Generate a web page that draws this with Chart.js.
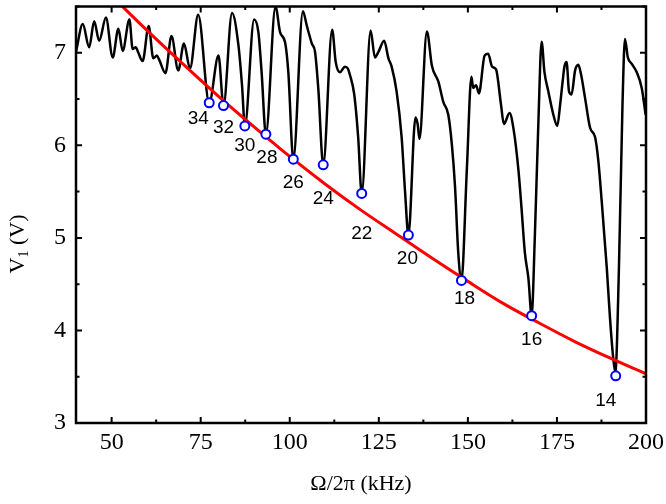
<!DOCTYPE html>
<html>
<head>
<meta charset="utf-8">
<script src="https://cdn.jsdelivr.net/npm/chart.js@4"></script>
<style>
  html, body { margin: 0; padding: 0; background: #fff; }
</style>
</head>
<body>
<canvas id="resChart" width="666" height="504"></canvas>
<script>
// measured V1 vs drive frequency (black trace)
const freqKHz = [40.0, 41.9, 43.7, 45.1, 46.5, 48.4, 50.3, 51.9, 53.1, 55.0, 55.9, 56.8, 57.3, 58.7, 60.4, 61.7, 62.7, 63.4, 65.1, 66.8,
  68.7, 70.3, 72.0, 74.3, 77.4, 80.0, 81.4, 83.8, 85.6, 86.6, 87.4, 90.0, 91.2, 92.1, 93.3, 96.0, 97.3, 98.7, 99.6, 101.0,
  103.7, 104.8, 106.2, 107.1, 108.0, 109.4, 111.9, 112.9, 114.1, 115.5, 116.3, 116.9, 118.1, 119.2, 120.2, 122.7, 123.9, 124.9, 126.5, 127.7,
  128.6, 130.0, 131.4, 132.4, 133.3, 135.3, 135.9, 136.4, 138.5, 139.9, 141.7, 143.1, 144.5, 145.5, 146.4, 147.3, 148.2, 149.7, 151.0, 151.5,
  152.3, 153.1, 154.7, 155.7, 156.8, 157.9, 159.3, 160.1, 161.7, 162.8, 164.2, 165.1, 166.0, 167.0, 167.9, 168.8, 169.8, 170.7, 171.5, 172.6,
  174.0, 175.1, 175.9, 176.6, 177.1, 177.7, 178.4, 179.1, 180.1, 181.0, 181.8, 182.9, 184.3, 185.7, 186.6, 187.6, 189.0, 189.9, 190.8, 191.4,
  192.4, 193.4, 194.1, 194.9, 196.0, 197.4, 198.8, 199.9];
const v1Volts = [7.01, 7.31, 7.06, 7.34, 7.13, 7.38, 6.95, 7.26, 7.02, 7.36, 7.04, 7.06, 7.02, 6.91, 7.29, 6.94, 6.97, 6.92, 6.78, 7.18,
  6.81, 7.10, 6.83, 7.41, 6.46, 6.97, 6.43, 7.43, 7.08, 6.65, 6.21, 7.36, 7.22, 6.79, 6.12, 7.50, 7.22, 7.11, 6.79, 5.85,
  7.45, 7.29, 7.10, 7.01, 6.62, 5.79, 7.25, 6.90, 6.79, 6.85, 6.83, 6.76, 6.55, 6.09, 5.48, 7.24, 6.95, 7.01, 7.13, 6.94,
  6.85, 6.58, 6.09, 5.48, 5.03, 6.30, 6.23, 6.07, 7.23, 6.86, 6.69, 6.47, 6.33, 6.01, 5.55, 4.84, 4.54, 5.73, 6.74, 6.62,
  6.65, 6.56, 6.97, 6.99, 6.85, 6.82, 6.44, 6.23, 6.35, 6.18, 5.73, 5.30, 4.84, 4.56, 4.16, 5.02, 6.26, 7.12, 6.79, 6.58,
  6.33, 6.21, 6.44, 6.69, 6.85, 6.90, 6.58, 6.55, 6.81, 6.87, 6.76, 6.51, 6.19, 6.09, 5.84, 5.38, 4.67, 4.13, 3.70, 3.55,
  4.67, 6.44, 7.15, 6.95, 6.88, 6.79, 6.62, 6.33];

// envelope through the minima (red)
const fitFreq = [52.5, 60, 70, 80, 90, 100, 110, 120, 130, 140, 150, 160, 170, 180, 190, 200];
const fitVolts = [7.52, 7.24, 6.88, 6.53, 6.20, 5.88, 5.58, 5.30, 5.04, 4.78, 4.53, 4.29, 4.08, 3.88, 3.70, 3.53];

// resonance minima (blue circles) and their mode numbers
const dipFreq = [77.4, 81.4, 87.4, 93.3, 101.0, 109.4, 120.2, 133.3, 148.2, 167.9, 191.5];
const dipVolts = [6.46, 6.43, 6.21, 6.12, 5.85, 5.79, 5.48, 5.03, 4.54, 4.16, 3.51];
const dipLabels = ['34', '32', '30', '28', '26', '24', '22', '20', '18', '16', '14'];

const xTicks = [50, 75, 100, 125, 150, 175, 200];
const yTicks = [3, 4, 5, 6, 7];

// where each mode number sits relative to its circle (px)
const labelOffsets = [[-11, 16], [0, 22], [0, 20], [1, 24], [0, 24], [0, 34], [0, 40], [-1, 24], [3, 18], [0, 24], [-10, 25]];

const serif = '"Liberation Serif", "Times New Roman", serif';

const framePlugin = {
  id: 'frame',
  afterDraw(chart) {
    const ctx = chart.ctx;
    const a = chart.chartArea;
    const xs = chart.scales.x, ys = chart.scales.y;
    ctx.save();
    ctx.strokeStyle = '#000';
    ctx.lineWidth = 2;

    // inward ticks on all four sides, minor ticks halfway
    ctx.beginPath();
    for (let v = 37.5; v <= 200; v += 12.5) {
      if (v < 40) continue;
      const len = (v % 25 === 0) ? 6 : 3.5;
      const px = xs.getPixelForValue(v);
      ctx.moveTo(px, a.bottom); ctx.lineTo(px, a.bottom - len);
      ctx.moveTo(px, a.top); ctx.lineTo(px, a.top + len);
    }
    for (let v = 3; v <= 7.5; v += 0.5) {
      const len = (v % 1 === 0) ? 6 : 3.5;
      const py = ys.getPixelForValue(v);
      ctx.moveTo(a.left, py); ctx.lineTo(a.left + len, py);
      ctx.moveTo(a.right, py); ctx.lineTo(a.right - len, py);
    }
    ctx.stroke();

    ctx.lineWidth = 2.5;
    ctx.strokeRect(a.left, a.top, a.right - a.left, a.bottom - a.top);

    // mode numbers
    ctx.fillStyle = '#000';
    ctx.font = '19px "Liberation Sans", Arial, sans-serif';
    ctx.textAlign = 'center';
    ctx.textBaseline = 'middle';
    dipLabels.forEach((t, i) => {
      const px = xs.getPixelForValue(dipFreq[i]) + labelOffsets[i][0];
      const py = ys.getPixelForValue(dipVolts[i]) + labelOffsets[i][1];
      ctx.fillText(t, px, py);
    });

    // axis titles
    ctx.font = '22px ' + serif;
    ctx.fillText('\u03A9/2\u03C0 (kHz)', (a.left + a.right) / 2, 484);

    ctx.translate(18, 244);
    ctx.rotate(-Math.PI / 2);
    ctx.textAlign = 'left';
    const big = '22px ' + serif, small = '14px ' + serif;
    ctx.font = big;
    const wV = ctx.measureText('V').width;
    const wRest = ctx.measureText(' (V)').width;
    ctx.font = small;
    const w1 = ctx.measureText('1').width;
    let x0 = -(wV + w1 + wRest) / 2;
    ctx.font = big;
    ctx.fillText('V', x0, 0);
    ctx.font = small;
    ctx.fillText('1', x0 + wV, 6);
    ctx.font = big;
    ctx.fillText(' (V)', x0 + wV + w1, 0);
    ctx.restore();
  }
};

const ctx = document.getElementById('resChart').getContext('2d');
const resChart = new Chart(ctx, {
  type: 'scatter',
  data: {
    datasets: [{
      data: dipFreq.map((f, i) => ({ x: f, y: dipVolts[i] })),
      showLine: false,
      pointRadius: 4.5,
      pointBorderWidth: 2,
      pointBorderColor: '#0000ff',
      pointBackgroundColor: '#ffffff',
      order: 1
    }, {
      data: fitFreq.map((f, i) => ({ x: f, y: fitVolts[i] })),
      showLine: true,
      borderColor: '#ff0000',
      borderWidth: 3,
      pointRadius: 0,
      cubicInterpolationMode: 'monotone',
      order: 2
    }, {
      data: freqKHz.map((f, i) => ({ x: f, y: v1Volts[i] })),
      showLine: true,
      borderColor: '#000000',
      borderWidth: 2.5,
      pointRadius: 0,
      cubicInterpolationMode: 'monotone',
      order: 3
    }]
  },
  options: {
    responsive: false,
    animation: false,
    devicePixelRatio: 1,
    events: [],
    layout: { padding: { top: 1, right: 20, left: 0, bottom: 0 } },
    plugins: { legend: { display: false }, tooltip: { enabled: false } },
    scales: {
      x: {
        type: 'linear',
        min: 40,
        max: 200,
        afterBuildTicks: s => { s.ticks = xTicks.map(v => ({ value: v })); },
        afterFit: s => { s.height = 81; s.paddingLeft = 0; s.paddingRight = 0; },
        grid: { display: false, drawTicks: false },
        border: { display: false },
        ticks: { color: '#000', padding: 5, font: { family: serif, size: 24 }, maxRotation: 0 }
      },
      y: {
        min: 3,
        max: 7.5,
        afterBuildTicks: s => { s.ticks = yTicks.map(v => ({ value: v })); },
        afterFit: s => { s.width = 76; s.paddingTop = 0; s.paddingBottom = 0; },
        grid: { display: false, drawTicks: false },
        border: { display: false },
        ticks: { color: '#000', padding: 10, font: { family: serif, size: 24 } }
      }
    }
  },
  plugins: [framePlugin]
});
</script>
</body>
</html>
